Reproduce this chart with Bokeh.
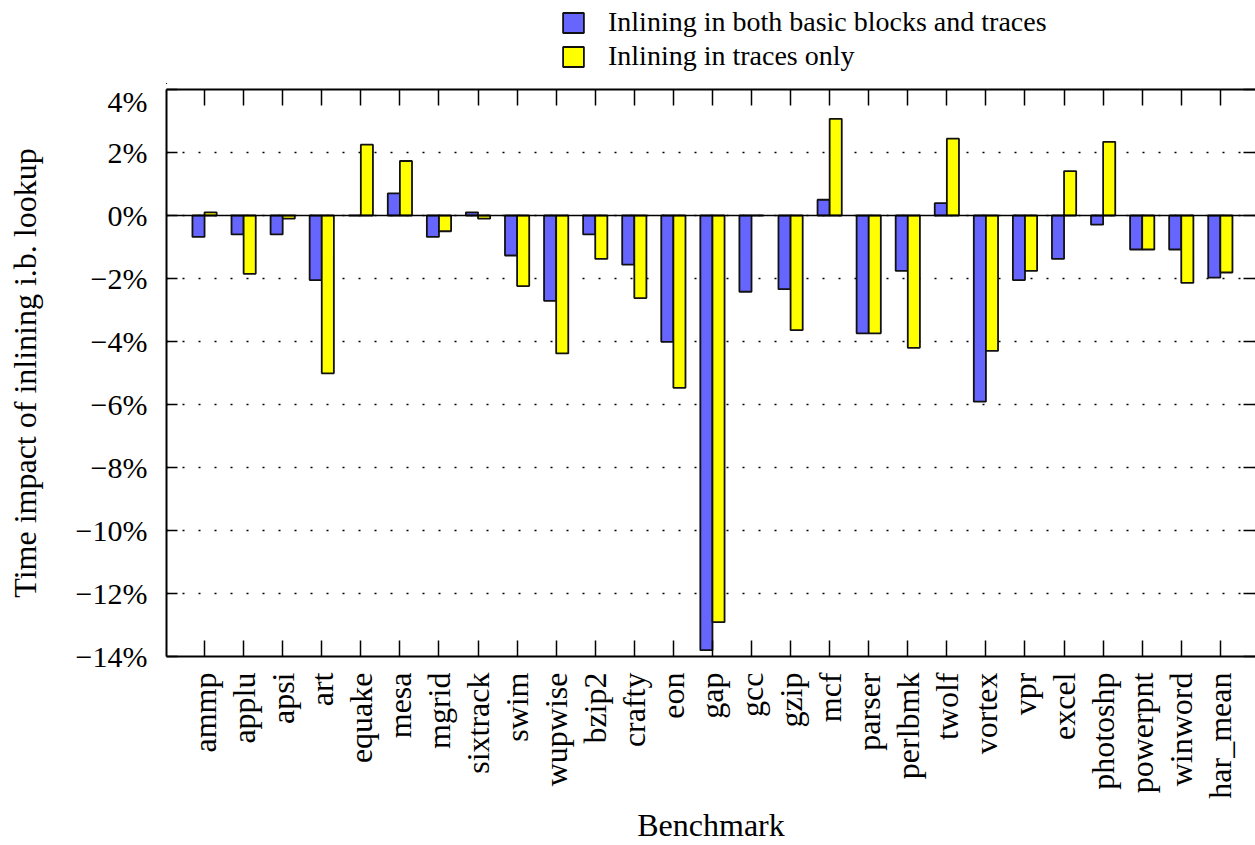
import numpy as np
from bokeh.plotting import figure
from bokeh.layouts import column
from bokeh.models import (Range1d, LinearAxis, FixedTicker, Span, Legend,
                          LegendItem, ColumnDataSource, CustomJSTickFormatter)
from bokeh.transform import dodge
from bokeh.embed import file_html
from bokeh.resources import INLINE

benchmarks = ["ammp", "applu", "apsi", "art", "equake", "mesa", "mgrid",
              "sixtrack", "swim", "wupwise", "bzip2", "crafty", "eon", "gap",
              "gcc", "gzip", "mcf", "parser", "perlbmk", "twolf", "vortex",
              "vpr", "excel", "photoshp", "powerpnt", "winword", "har_mean"]
both_bb_traces = [-0.68, -0.60, -0.60, -2.05, 0.00, 0.70, -0.68, 0.10, -1.27,
                  -2.71, -0.60, -1.56, -4.01, -13.80, -2.42, -2.34, 0.50,
                  -3.74, -1.76, 0.39, -5.91, -2.05, -1.38, -0.29, -1.08,
                  -1.08, -1.97]
traces_only = [0.10, -1.85, -0.10, -5.01, 2.25, 1.73, -0.50, -0.10, -2.24,
               -4.38, -1.38, -2.62, -5.47, -12.91, 0.00, -3.64, 3.07, -3.74,
               -4.20, 2.44, -4.30, -1.76, 1.41, 2.34, -1.08, -2.14, -1.81]
y_ticks = [4, 2, 0, -2, -4, -6, -8, -10, -12, -14]
y_tick_labels = ["4%", "2%", "0%", "\u22122%", "\u22124%", "\u22126%",
                 "\u22128%", "\u221210%", "\u221212%", "\u221214%"]
series_names = ["Inlining in both basic blocks and traces",
                "Inlining in traces only"]

FONT = "Liberation Serif"
BLUE = "#6666ff"
YELLOW = "#ffff00"
EDGE = "#111111"

xs = list(range(len(benchmarks)))
src = ColumnDataSource(dict(x=xs, both=both_bb_traces, traces=traces_only))

# ---------------- legend strip (above the plot) ----------------
# The bars in this strip fall outside its ranges, so only the legend shows.
leg = figure(width=1255, height=84, output_backend="svg",
             toolbar_location=None, x_axis_location=None,
             y_axis_location=None, x_range=Range1d(1000, 1001),
             y_range=Range1d(1000, 1001), min_border=0)
leg.outline_line_color = None
leg.grid.visible = False
l1 = leg.vbar(x="x", top="both", bottom=0, width=0.1, source=src,
              fill_color=BLUE, line_color=EDGE, line_width=1.8)
l2 = leg.vbar(x="x", top="traces", bottom=0, width=0.1, source=src,
              fill_color=YELLOW, line_color=EDGE, line_width=1.8)
legend = Legend(items=[LegendItem(label=series_names[0], renderers=[l1]),
                       LegendItem(label=series_names[1], renderers=[l2])],
                location=(394, 12), orientation="vertical",
                glyph_width=26, glyph_height=25, label_standoff=22,
                label_text_font=FONT, label_text_font_size="28px",
                label_text_color="black",
                label_height=25, spacing=2, padding=0, margin=0,
                border_line_color=None, background_fill_alpha=0)
leg.add_layout(legend, "center")

# ---------------- main plot ----------------
p = figure(width=1255, height=761, output_backend="svg", toolbar_location=None,
           x_range=Range1d(-0.974, 26.9), y_range=Range1d(-14, 4),
           x_axis_location=None, y_axis_location=None,
           min_border_left=166, min_border_right=0, min_border_top=5,
           min_border_bottom=189)
p.outline_line_color = None
p.background_fill_color = "white"
p.border_fill_color = "white"

p.xgrid.visible = False
p.ygrid.ticker = FixedTicker(ticks=y_ticks)
p.ygrid.grid_line_color = "black"
p.ygrid.grid_line_dash = "2 14"
p.ygrid.grid_line_width = 1.5

p.add_layout(Span(location=0, dimension="width", line_color="black",
                  line_width=1.5))

p.vbar(x=dodge("x", -0.155, range=p.x_range), top="both", bottom=0,
       width=0.31, source=src, fill_color=BLUE, line_color=EDGE,
       line_width=1.8)
p.vbar(x=dodge("x", 0.155, range=p.x_range), top="traces", bottom=0,
       width=0.31, source=src, fill_color=YELLOW, line_color=EDGE,
       line_width=1.8)


def style_axis(ax, tick_in, fs="30px"):
    ax.axis_line_color = "black"
    ax.axis_line_width = 2
    ax.major_tick_in = tick_in
    ax.major_tick_out = 0
    ax.major_tick_line_width = 1.5
    ax.major_tick_line_color = "black"
    ax.minor_tick_line_color = None
    ax.major_label_text_font = FONT
    ax.major_label_text_font_size = fs
    ax.major_label_text_color = "black"
    ax.axis_label_text_font = FONT
    ax.axis_label_text_font_size = "32px"
    ax.axis_label_text_font_style = "normal"
    ax.axis_label_text_color = "black"


left = LinearAxis(ticker=FixedTicker(ticks=y_ticks),
                  major_label_overrides=dict(zip(y_ticks, y_tick_labels)),
                  axis_label="Time impact of inlining i.b. lookup")
style_axis(left, 11, "30px")
left.major_label_standoff = 19
left.axis_label_standoff = 30
p.add_layout(left, "left")

bottom = LinearAxis(ticker=FixedTicker(ticks=xs),
                    major_label_overrides=dict(zip(xs, benchmarks)),
                    axis_label="Benchmark")
style_axis(bottom, 16, "32px")
bottom.major_label_orientation = np.pi / 2
bottom.major_label_standoff = 16
bottom.axis_label_standoff = 5
p.add_layout(bottom, "below")

blank = CustomJSTickFormatter(code="return ''")
top = LinearAxis(ticker=FixedTicker(ticks=xs), formatter=blank)
style_axis(top, 16)
top.major_label_standoff = 0
p.add_layout(top, "above")

right = LinearAxis(ticker=FixedTicker(ticks=y_ticks), formatter=blank)
style_axis(right, 12)
right.axis_line_color = None
right.major_label_standoff = 0
p.add_layout(right, "right")

layout = column(leg, p, spacing=0)
open("out.html", "w").write(file_html(layout, INLINE))
